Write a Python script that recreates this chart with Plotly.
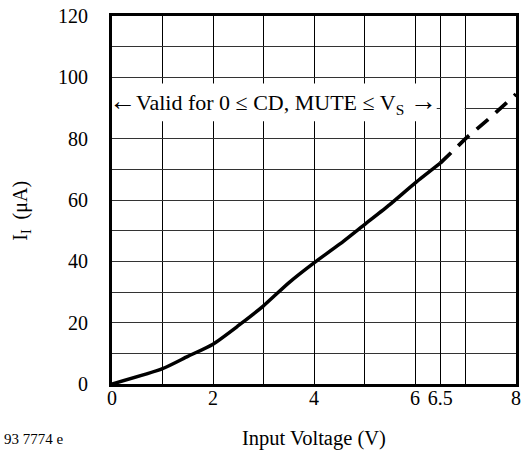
import plotly.graph_objects as go

# Data
volt_solid = [0, 1, 1.5, 2, 2.5, 3, 3.5, 4, 4.5, 5, 5.5, 6, 6.5]
curr_solid = [0, 5, 9, 13, 19, 25.5, 33, 39.5, 45.5, 52, 58.5, 65.5, 72]
volt_dash = [6.5, 7, 7.5, 8]
curr_dash = [72, 80, 87, 94.5]
x_ticks = [0, 2, 4, 6, 6.5, 8]
x_ticktext = ["0", "2", "4", "6", "6.5", "8"]
y_ticks = [0, 20, 40, 60, 80, 100, 120]

FONT = "Liberation Serif, Times New Roman, serif"

fig = go.Figure()
fig.add_trace(go.Scatter(x=volt_solid, y=curr_solid, mode="lines",
                         line=dict(color="black", width=3.5, shape="spline", smoothing=0.6),
                         showlegend=False))
fig.add_trace(go.Scatter(x=volt_dash, y=curr_dash, mode="lines",
                         line=dict(color="black", width=3.8, dash="15px,10px"), showlegend=False))

# white box behind the validity label, and gap in the 90 gridline
fig.add_shape(type="rect", xref="x", yref="y", x0=0, x1=6.43, y0=85.7, y1=98,
              fillcolor="white", line=dict(width=0), layer="above")
fig.add_shape(type="rect", xref="x", yref="y", x0=6.515, x1=6.985, y0=89, y1=91,
              fillcolor="white", line=dict(width=0), layer="above")

fig.add_annotation(x=0, y=92, xref="x", yref="y", xanchor="left", yanchor="middle",
                   text="<span style='font-size:27px'>←</span>Valid for 0 ≤ CD, MUTE ≤ V<sub>S</sub> <span style='font-size:27px'>→</span>",
                   showarrow=False,
                   font=dict(family=FONT, size=22, color="black"), xshift=-5)

W, H = 526, 455
l, r, t, b = 112, 5, 14, 71
pw, ph = W - l - r, H - t - b
def px_to_paper(xp, yp):
    return (xp - l) / pw, (H - b - yp) / ph

yx, yy = px_to_paper(6, 210)
fig.add_annotation(x=yx, y=yy, xref="paper", yref="paper", showarrow=False,
                   text="I<sub>I</sub>  (μA)", textangle=-90,
                   font=dict(family=FONT, size=20, color="black"))
cx, cy = px_to_paper(1, 439)
fig.add_annotation(x=cx, y=cy, xref="paper", yref="paper", showarrow=False,
                   text="93 7774 e", xanchor="left", yanchor="middle",
                   font=dict(family=FONT, size=15, color="black"))
tx, ty = px_to_paper(316, 439)
fig.add_annotation(x=0.5, y=ty, xref="paper", yref="paper", showarrow=False,
                   text="Input Voltage (V)", xanchor="center", yanchor="middle",
                   font=dict(family=FONT, size=20.5, color="black"))

fig.update_layout(
    width=W, height=H,
    margin=dict(l=l, r=r, t=t, b=b),
    paper_bgcolor="white", plot_bgcolor="white",
    font=dict(family=FONT, size=20, color="black"),
    xaxis=dict(range=[0, 8], tickmode="array", tickvals=x_ticks, ticktext=x_ticktext,
               showgrid=True, gridcolor="black", gridwidth=1, zeroline=False,
               showline=True, linecolor="black", linewidth=3, mirror=True,
               ticks="", ticklabelstandoff=-6,
               minor=dict(dtick=1, tick0=0, showgrid=True, gridcolor="black", gridwidth=1)),
    yaxis=dict(range=[0, 120], tickmode="array", tickvals=y_ticks,
               showgrid=True, gridcolor="#333333", gridwidth=1, zeroline=False,
               showline=True, linecolor="black", linewidth=3, mirror=True,
               ticks="", ticklabelstandoff=17,
               minor=dict(dtick=10, tick0=0, showgrid=True, gridcolor="#333333", gridwidth=1)),
)

fig.write_html("out.html", config={"displayModeBar": False},
               post_script="document.body.style.margin='0';")
